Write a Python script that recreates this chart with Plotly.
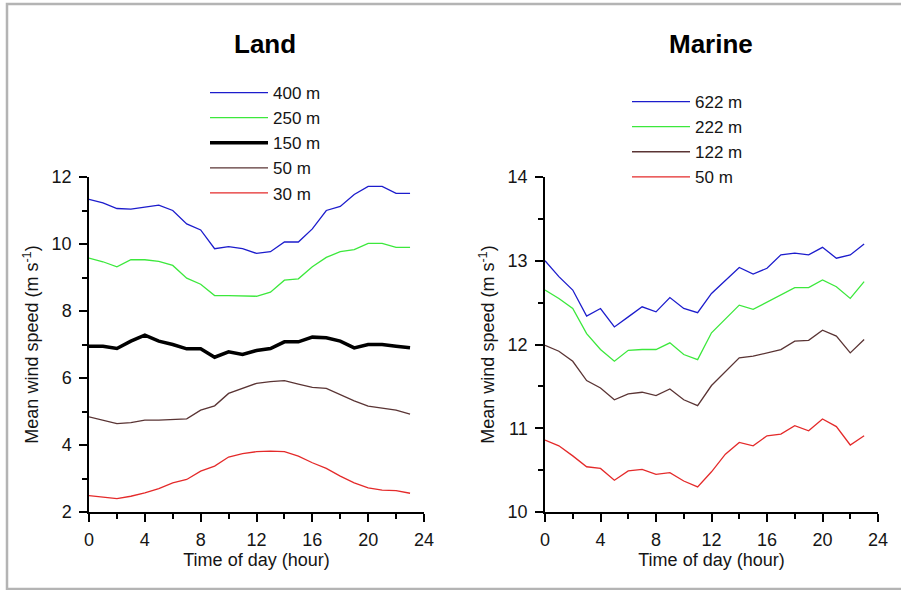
import plotly.graph_objects as go

hours = list(range(24))

land_labels = ["400 m", "250 m", "150 m", "50 m", "30 m"]
land_400 = [11.33, 11.23, 11.06, 11.04, 11.10, 11.16, 11.00, 10.60, 10.42, 9.86, 9.92, 9.86,
            9.72, 9.77, 10.06, 10.06, 10.45, 11.00, 11.12, 11.48, 11.72, 11.72, 11.51, 11.51]
land_250 = [9.58, 9.47, 9.32, 9.53, 9.53, 9.48, 9.36, 8.98, 8.80, 8.46, 8.46, 8.46,
            8.44, 8.56, 8.92, 8.96, 9.32, 9.60, 9.77, 9.83, 10.02, 10.02, 9.90, 9.90]
land_150 = [6.95, 6.95, 6.88, 7.10, 7.28, 7.10, 7.00, 6.87, 6.87, 6.62, 6.78, 6.70,
            6.82, 6.88, 7.08, 7.08, 7.22, 7.20, 7.10, 6.90, 7.00, 7.00, 6.95, 6.90]
land_50 = [4.84, 4.74, 4.64, 4.67, 4.74, 4.74, 4.77, 4.78, 5.04, 5.17, 5.54, 5.69,
           5.84, 5.89, 5.92, 5.82, 5.72, 5.69, 5.50, 5.32, 5.16, 5.09, 5.04, 4.92]
land_30 = [2.49, 2.44, 2.40, 2.47, 2.57, 2.70, 2.87, 2.97, 3.22, 3.37, 3.64, 3.74,
           3.80, 3.82, 3.80, 3.67, 3.47, 3.30, 3.07, 2.87, 2.72, 2.65, 2.64, 2.56]

marine_labels = ["622 m", "222 m", "122 m", "50 m"]
marine_622 = [13.00, 12.81, 12.65, 12.34, 12.43, 12.21, 12.33, 12.45, 12.39, 12.56, 12.43, 12.38,
              12.61, 12.76, 12.92, 12.84, 12.91, 13.07, 13.09, 13.07, 13.16, 13.03, 13.07, 13.20]
marine_222 = [12.65, 12.55, 12.43, 12.13, 11.94, 11.80, 11.93, 11.94, 11.94, 12.02, 11.88, 11.82,
              12.14, 12.30, 12.47, 12.42, 12.51, 12.59, 12.68, 12.68, 12.77, 12.69, 12.55, 12.75]
marine_122 = [11.99, 11.92, 11.80, 11.57, 11.48, 11.34, 11.41, 11.43, 11.39, 11.47, 11.34, 11.27,
              11.51, 11.67, 11.84, 11.86, 11.90, 11.94, 12.04, 12.05, 12.17, 12.10, 11.90, 12.06]
marine_50 = [10.86, 10.79, 10.67, 10.54, 10.52, 10.38, 10.49, 10.51, 10.45, 10.47, 10.37, 10.30,
             10.48, 10.69, 10.83, 10.79, 10.91, 10.93, 11.03, 10.97, 11.11, 11.02, 10.80, 10.91]

x_ticks = [0, 4, 8, 12, 16, 20, 24]

BLUE = "#1c1ccc"
GREEN = "#3ce83c"
BROWN = "#5a3434"
RED = "#e42a2a"
FONT = "Liberation Sans, Arial, sans-serif"
TXT = "#151515"

W, H = 901, 590

fig = go.Figure()

land_series = [land_400, land_250, land_150, land_50, land_30]
land_styles = [(BLUE, 1.3), (GREEN, 1.3), ("#000000", 3.5), (BROWN, 1.3), (RED, 1.3)]
for name, ys, (c, w) in zip(land_labels, land_series, land_styles):
    fig.add_trace(go.Scatter(x=hours, y=ys, mode="lines", name=name,
                             line=dict(color=c, width=w), xaxis="x", yaxis="y",
                             legend="legend"))

marine_series = [marine_622, marine_222, marine_122, marine_50]
marine_styles = [(BLUE, 1.3), (GREEN, 1.3), (BROWN, 1.3), (RED, 1.3)]
for name, ys, (c, w) in zip(marine_labels, marine_series, marine_styles):
    fig.add_trace(go.Scatter(x=hours, y=ys, mode="lines", name=name,
                             line=dict(color=c, width=w), xaxis="x2", yaxis="y2",
                             legend="legend2"))

def px_x(p):
    return p / W

def px_y(p):
    return 1 - p / H

ydom = [px_y(512), px_y(177)]

common_x = dict(range=[0, 24], tickvals=x_ticks, showline=True, linecolor="#000", linewidth=1.5,
                ticks="outside", ticklen=8, tickwidth=1.5, tickcolor="#000",
                minor=dict(dtick=2, tick0=0, ticks="outside", ticklen=5, tickwidth=1.5, tickcolor="#000"),
                showgrid=False, zeroline=False, ticklabelstandoff=3,
                tickfont=dict(family=FONT, size=18, color=TXT),
                title=dict(text="Time of day (hour)", font=dict(family=FONT, size=18, color=TXT), standoff=0))
common_y = dict(showline=True, linecolor="#000", linewidth=1.5,
                ticks="outside", ticklen=8, tickwidth=1.5, tickcolor="#000",
                showgrid=False, zeroline=False, ticklabelstandoff=4,
                tickfont=dict(family=FONT, size=18, color=TXT),
                title=dict(text="Mean wind speed (m s<sup>-1</sup>)", font=dict(family=FONT, size=18, color=TXT), standoff=8))

legend_common = dict(xanchor="left", yanchor="top", bgcolor="rgba(0,0,0,0)",
                     font=dict(family=FONT, size=17, color=TXT), itemwidth=58, tracegroupgap=0)

fig.update_layout(
    width=W, height=H,
    margin=dict(l=0, r=0, t=0, b=0, autoexpand=False),
    paper_bgcolor="white", plot_bgcolor="white",
    font=dict(family=FONT, size=18, color=TXT),
    xaxis=dict(domain=[px_x(89), px_x(424)], anchor="y", **common_x),
    yaxis=dict(domain=ydom, anchor="x", range=[2, 12], tickvals=[2, 4, 6, 8, 10, 12],
               minor=dict(dtick=1, tick0=0, ticks="outside", ticklen=5, tickwidth=1.5, tickcolor="#000"),
               **common_y),
    xaxis2=dict(domain=[px_x(545), px_x(878)], anchor="y2", **common_x),
    yaxis2=dict(domain=ydom, anchor="x2", range=[10, 14], tickvals=[10, 11, 12, 13, 14],
                minor=dict(dtick=0.5, tick0=0, ticks="outside", ticklen=5, tickwidth=1.5, tickcolor="#000"),
                **common_y),
    legend=dict(x=px_x(205), y=px_y(75), **legend_common),
    legend2=dict(x=px_x(627), y=px_y(84), **legend_common),
    annotations=[
        dict(text="<b>Land</b>", x=px_x(265), y=px_y(44), xref="paper", yref="paper",
             xanchor="center", yanchor="middle",
             showarrow=False, font=dict(family=FONT, size=26, color="#000")),
        dict(text="<b>Marine</b>", x=px_x(711), y=px_y(44), xref="paper", yref="paper",
             xanchor="center", yanchor="middle",
             showarrow=False, font=dict(family=FONT, size=26, color="#000")),
    ],
    shapes=[
        dict(type="rect", xref="paper", yref="paper", x0=px_x(7), x1=px_x(930), y0=px_y(589), y1=px_y(4),
             line=dict(color="#b4b4b4", width=2.5), fillcolor="rgba(0,0,0,0)", layer="below"),
    ],
)

fig.write_html("out.html")
